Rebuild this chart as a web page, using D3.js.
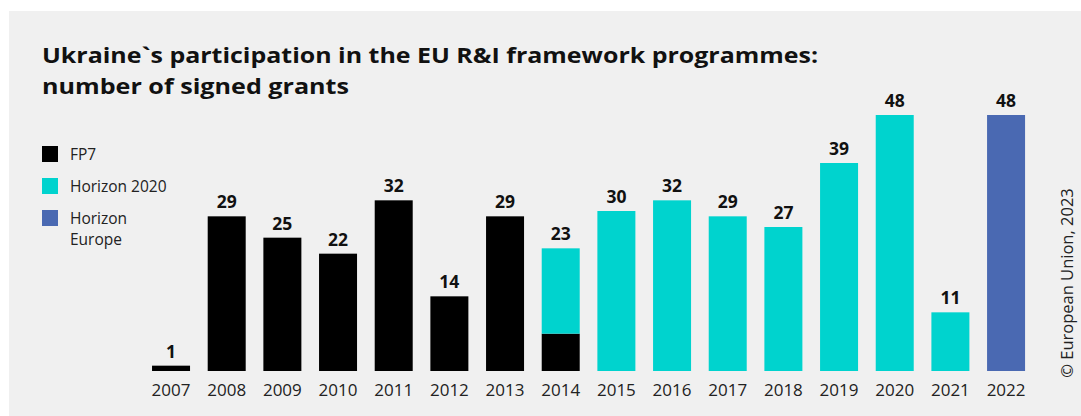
<!DOCTYPE html>
<html><head><meta charset="utf-8">
<script src="https://cdn.jsdelivr.net/npm/d3@7"></script>
<style>
html,body{margin:0;padding:0;background:#fff;}
svg{display:block;}
text{font-family:"Open Sans","DejaVu Sans",sans-serif;}
</style></head>
<body>
<svg id="c" width="1081" height="416"></svg>
<script>
const years = ["2007","2008","2009","2010","2011","2012","2013","2014","2015","2016","2017","2018","2019","2020","2021","2022"];
const fp7   = [1,29,25,22,32,14,29,7,0,0,0,0,0,0,0,0];
const h2020 = [0,0,0,0,0,0,0,16,30,32,29,27,39,48,11,0];
const he    = [0,0,0,0,0,0,0,0,0,0,0,0,0,0,0,48];
const seriesNames = ["FP7","Horizon 2020","Horizon Europe"];
const legendLines = [["FP7"],["Horizon 2020"],["Horizon","Europe"]];
const colors = ["#000000","#00d3ce","#4a69b2"];
const yDomainMax = 48;

const svg = d3.select("#c");
svg.append("rect").attr("x",9).attr("y",11).attr("width",1072).attr("height",405).attr("fill","#f0f0f0");

const title = svg.append("text").attr("x",42).attr("font-weight",700).attr("font-size",21).attr("fill","#111");
title.append("tspan").attr("x",42).attr("y",63).text("Ukraine`s participation in the EU R&I framework programmes:")
  .attr("textLength",776).attr("lengthAdjust","spacingAndGlyphs");
title.append("tspan").attr("x",42).attr("y",94).text("number of signed grants")
  .attr("textLength",307).attr("lengthAdjust","spacingAndGlyphs");

const data = years.map((y,i)=>({year:y, "FP7":fp7[i], "Horizon 2020":h2020[i], "Horizon Europe":he[i]}));
const stack = d3.stack().keys(seriesNames)(data);

const x = d3.scaleBand().domain(years).range([143.2,1033.9]).paddingInner(0.3174).paddingOuter(0.1587);
const y = d3.scaleLinear().domain([0,yDomainMax]).range([371,115]);
const color = d3.scaleOrdinal().domain(seriesNames).range(colors);

svg.append("g").selectAll("g").data(stack).join("g").attr("fill",d=>color(d.key))
  .selectAll("rect").data(d=>d.filter(p=>p[1]>p[0])).join("rect")
  .attr("x",d=>x(d.data.year)).attr("width",x.bandwidth())
  .attr("y",d=>y(d[1])).attr("height",d=>y(d[0])-y(d[1]));

// totals
svg.append("g").selectAll("text").data(data).join("text")
  .attr("x",d=>x(d.year)+x.bandwidth()/2)
  .attr("y",d=>y(d["FP7"]+d["Horizon 2020"]+d["Horizon Europe"])-8)
  .attr("text-anchor","middle").attr("font-weight",700).attr("font-size",17.5).attr("fill","#111")
  .text(d=>d["FP7"]+d["Horizon 2020"]+d["Horizon Europe"]);

// x axis
const xAxis = d3.axisBottom(x).tickSize(0).tickPadding(0);
const ax = svg.append("g").attr("transform","translate(0,380)").call(xAxis);
ax.select(".domain").remove();
ax.selectAll("text").attr("font-size",17).attr("fill","#222").attr("dy","0.93em")
  .attr("font-family",'"Open Sans","DejaVu Sans",sans-serif');

// legend
const legendY = [146,178,210];
const lg = svg.append("g");
seriesNames.forEach((n,i)=>{
  lg.append("rect").attr("x",42).attr("y",legendY[i]).attr("width",16).attr("height",16).attr("fill",colors[i]);
  legendLines[i].forEach((ln,j)=>{
    lg.append("text").attr("x",70).attr("y",legendY[i]+13.5+j*21.5).attr("font-size",15.5).attr("fill","#222").text(ln);
  });
});

// copyright
svg.append("text").attr("transform","translate(1073,283) rotate(-90)")
  .attr("text-anchor","middle").attr("font-size",16.5).attr("fill","#222").text("© European Union, 2023");
</script>
</body></html>
